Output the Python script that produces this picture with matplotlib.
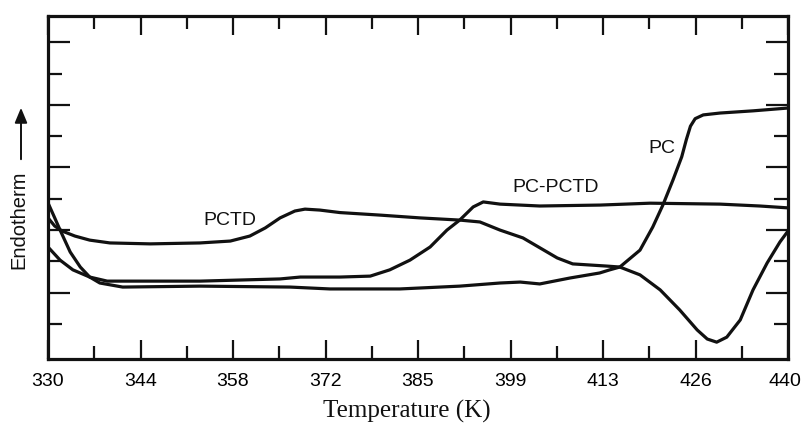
import matplotlib
matplotlib.use("Agg")
import matplotlib.pyplot as plt
import matplotlib.transforms as mtransforms
import numpy as np

# ---- data (temperature in K, endotherm signal in arbitrary units) ----
pctd_T = [330, 331.0, 332.1, 334.0, 336.2, 339.2, 345.2, 352.6, 357.1, 360.0,
          362.3, 364.5, 366.7, 368.2, 370.4, 373.4, 379.3, 385.3, 391.2, 394.2,
          397.2, 400.6, 405.7, 408.0, 413.1, 415.0, 418.0, 421.0, 423.9, 426.5,
          428.0, 429.4, 430.9, 432.9, 434.8, 436.9, 438.8, 440]
pctd_v = [4.39, 4.13, 3.97, 3.81, 3.68, 3.59, 3.56, 3.59, 3.65, 3.81,
          4.07, 4.39, 4.61, 4.67, 4.64, 4.56, 4.48, 4.39, 4.32, 4.26,
          4.00, 3.75, 3.11, 2.92, 2.85, 2.82, 2.57, 2.09, 1.45, 0.81,
          0.52, 0.42, 0.58, 1.13, 2.09, 2.95, 3.62, 3.97]

blend_T = [330, 331.8, 333.7, 336.2, 338.8, 352.6, 364.5, 367.5, 373.4, 377.9,
           380.8, 383.8, 386.8, 389.3, 391.2, 393.2, 394.7, 397.2, 403.1, 412.1,
           419.5, 429.9, 435.8, 440]
blend_v = [3.46, 3.04, 2.73, 2.50, 2.37, 2.37, 2.44, 2.50, 2.50, 2.53,
           2.73, 3.04, 3.46, 4.00, 4.32, 4.74, 4.90, 4.83, 4.77, 4.80,
           4.86, 4.83, 4.77, 4.71]

pc_T = [330.0, 331.0, 331.8, 333.3, 334.8, 336.2, 337.7, 341.1, 352.6, 366.0,
        371.9, 382.3, 391.2, 397.2, 400.2, 403.1, 407.6, 412.0, 413.5, 415.0,
        418.0, 419.9, 421.4, 422.9, 424.2, 424.9, 425.5, 426.2, 427.4, 429.9,
        434.8, 440]
pc_v = [4.87, 4.39, 4.00, 3.30, 2.82, 2.50, 2.31, 2.18, 2.21, 2.18,
        2.12, 2.12, 2.21, 2.31, 2.34, 2.28, 2.47, 2.63, 2.73, 2.82,
        3.36, 4.10, 4.80, 5.60, 6.34, 6.90, 7.32, 7.56, 7.68, 7.74,
        7.81, 7.90]

xtick_labels = ["330", "344", "358", "372", "385", "399", "413", "426", "440"]
curve_labels = ["PCTD", "PC-PCTD", "PC"]
label_pos_T = [357.0, 405.5, 421.3]
label_pos_v = [4.30, 5.35, 6.62]

# ---- figure ----
fig = plt.figure(figsize=(8.03, 4.25), dpi=100)
ax = fig.add_axes([48/803, 1-359/425, 740/803, 343/425])

lw = 2.3
col = "#111111"
for T, v in [(pctd_T, pctd_v), (blend_T, blend_v), (pc_T, pc_v)]:
    ax.plot(T, v, color=col, lw=lw, solid_joinstyle="round", solid_capstyle="round")

ax.set_xlim(330, 440)
ax.set_ylim(-0.118, 10.84)

major_x = np.linspace(330, 440, 9)
minor_x = (major_x[:-1] + major_x[1:]) / 2
ax.set_xticks(major_x)
ax.set_xticklabels(xtick_labels, fontsize=14, family="Liberation Sans")
ax.set_xticks(minor_x, minor=True)
ax.set_yticks([2, 4, 6, 8, 10])
ax.set_yticks([1, 3, 5, 7, 9], minor=True)
ax.set_yticklabels([])

ax.tick_params(axis="both", which="both", direction="in", top=True, right=True,
               width=1.6, color=col)
ax.tick_params(axis="x", which="major", length=13.5, pad=10)
ax.tick_params(axis="x", which="minor", length=9.5)
ax.tick_params(axis="y", which="major", length=15.5)
ax.tick_params(axis="y", which="minor", length=10)
for s in ax.spines.values():
    s.set_linewidth(2.3)
    s.set_color(col)

# nudge the last tick label slightly left so it stays inside the figure
last = ax.get_xticklabels()[-1]
last.set_transform(last.get_transform() +
                   mtransforms.ScaledTranslation(-3/100, 0, fig.dpi_scale_trans))

for name, T, v in zip(curve_labels, label_pos_T, label_pos_v):
    ax.text(T, v, name, fontsize=14, family="Liberation Sans", ha="center", va="center",
            color=col)

fig.text(407/803, 1-411/425, "Temperature (K)", fontsize=18, family="Liberation Serif",
         ha="center", va="center", color=col)
fig.text(19/803, 1-220/425, "Endotherm", fontsize=14.5, family="Liberation Sans",
         rotation=90, ha="center", va="center", color=col)
fig.patches.append(matplotlib.patches.FancyArrowPatch(
    (21/803, 1-162/425), (21/803, 1-105/425), transform=fig.transFigure,
    arrowstyle="-|>,head_length=6,head_width=2.5", lw=1.4, color=col, mutation_scale=1.5))

fig.savefig("out.png", dpi=100)
